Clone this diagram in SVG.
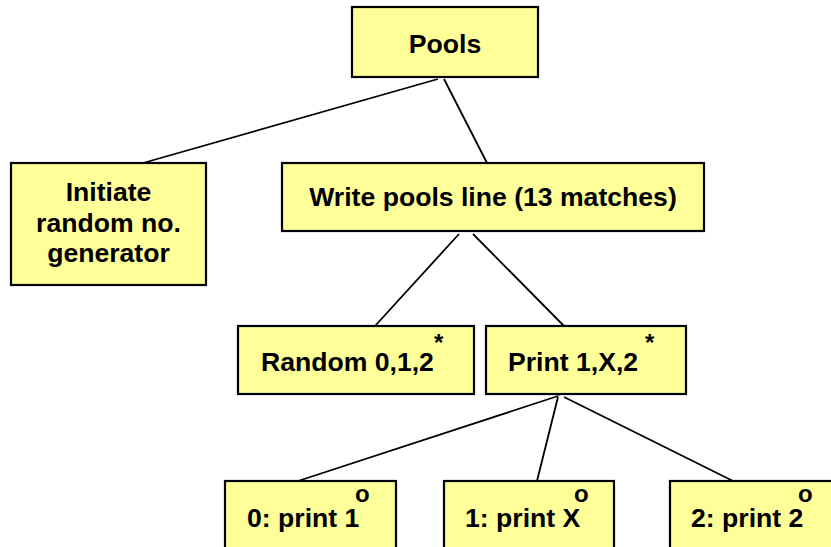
<svg xmlns="http://www.w3.org/2000/svg" width="831" height="547" viewBox="0 0 831 547">
<style>
.box{fill:#FFFF99;stroke:#000;stroke-width:2.2}
.t{font-family:"Liberation Sans",Arial,sans-serif;font-weight:bold;font-size:26.6px;fill:#000}
.c{text-anchor:middle}
.sup{font-family:"Liberation Sans",Arial,sans-serif;font-weight:bold;font-size:24px;fill:#000}
.ast{font-family:"Liberation Sans",Arial,sans-serif;font-weight:bold;font-size:24px;fill:#000}
.conn line{stroke:#000;stroke-width:1.8;fill:none}
</style>
<rect width="831" height="547" fill="#fff"/>
<g id="connectors" class="conn">
<line x1="438" y1="79" x2="143" y2="163"/>
<line x1="444" y1="79" x2="487" y2="163"/>
<line x1="459" y1="234" x2="375" y2="326"/>
<line x1="473" y1="234" x2="564" y2="326"/>
<line x1="573" y1="390" x2="558" y2="395"/>
<line x1="558" y1="396" x2="298" y2="481"/>
<line x1="558" y1="397" x2="537" y2="481"/>
<line x1="564" y1="397" x2="733" y2="481"/>
</g>
<g id="pools">
<rect class="box" x="352" y="7" width="186" height="70"/>
<text class="t c" x="445" y="53">Pools</text>
</g>
<g id="initiate">
<rect class="box" x="11" y="163" width="195" height="122"/>
<text class="t c" x="108.5" y="201">Initiate</text>
<text class="t c" x="108.5" y="231.5">random no.</text>
<text class="t c" x="108.5" y="262">generator</text>
</g>
<g id="write">
<rect class="box" x="282" y="163" width="422" height="68"/>
<text class="t c" x="493" y="206">Write pools line (13 matches)</text>
</g>
<g id="random">
<rect class="box" x="238" y="326" width="236" height="68"/>
<text class="t" x="261" y="371">Random 0,1,2</text>
<text class="ast" x="434" y="351">*</text>
</g>
<g id="print">
<rect class="box" x="486" y="326" width="200" height="68"/>
<text class="t" x="508" y="371">Print 1,X,2</text>
<text class="ast" x="645" y="351">*</text>
</g>
<g id="print1">
<rect class="box" x="225" y="481" width="171" height="80"/>
<text class="t" x="247" y="527">0: print 1</text>
<text class="sup" x="355" y="502">o</text>
</g>
<g id="printX">
<rect class="box" x="444" y="481" width="170" height="80"/>
<text class="t" x="465" y="527">1: print X</text>
<text class="sup" x="574" y="502">o</text>
</g>
<g id="print2">
<rect class="box" x="670" y="481" width="171" height="80"/>
<text class="t" x="691" y="527">2: print 2</text>
<text class="sup" x="798" y="502">o</text>
</g>
</svg>
